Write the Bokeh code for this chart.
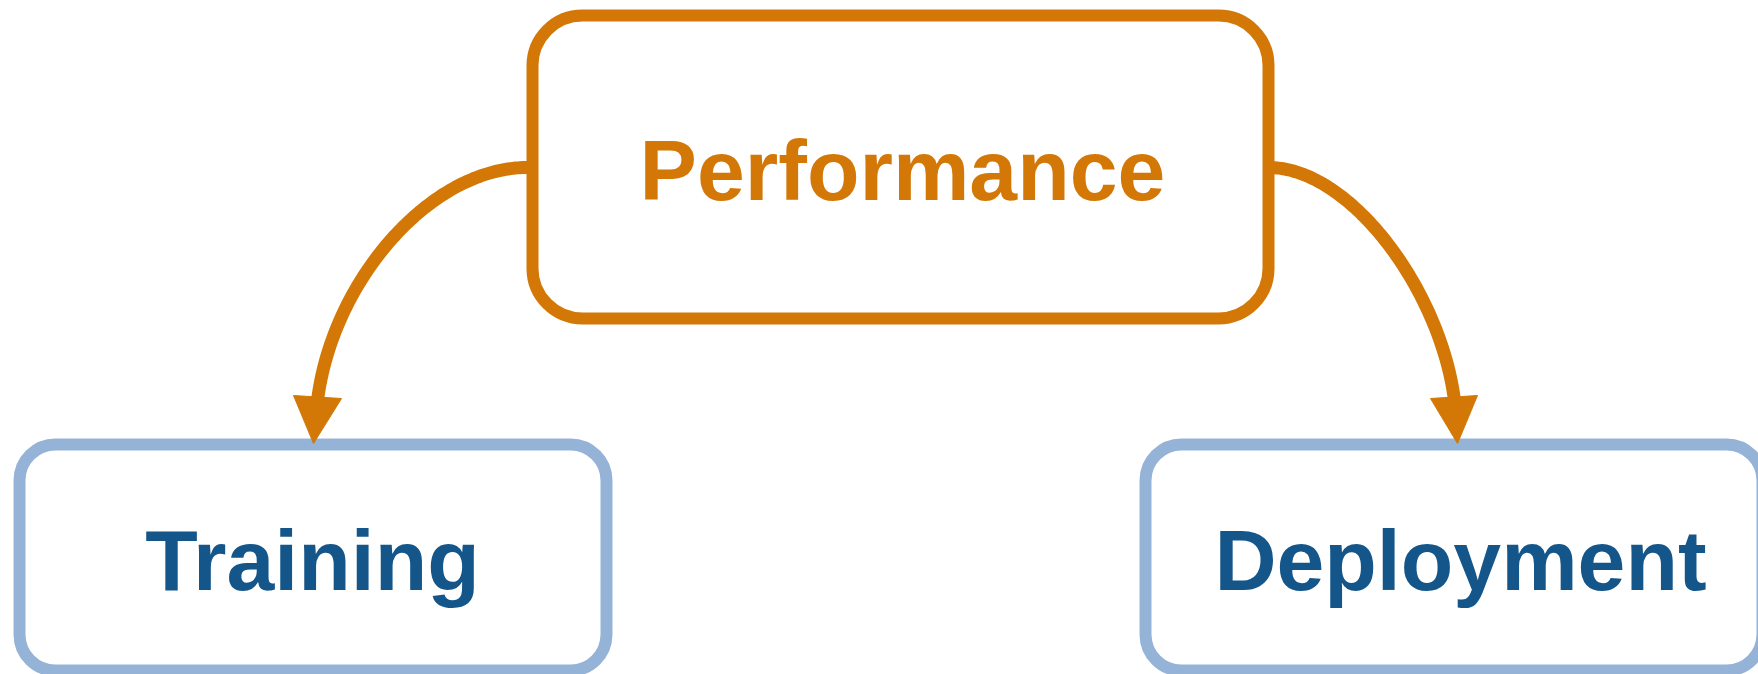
import numpy as np
from bokeh.plotting import figure
from bokeh.models import Range1d, ColumnDataSource
from bokeh.core.properties import value
from bokeh.embed import file_html
from bokeh.resources import INLINE

# ---- content ----
box_labels = ["Performance", "Training", "Deployment"]
box_line_colors = ["#D37807", "#95B3D7", "#95B3D7"]
text_colors = ["#D37807", "#15568A", "#15568A"]

# ---- layout (page pixel coordinates) ----
box_left = [532, 19, 1145]
box_right = [1268, 606, 1762]
box_top = [15, 444, 444]
box_bottom = [318, 670, 670]
box_radius = [50, 36, 36]
label_x = [902, 312, 1460]
label_y = [169, 559, 559]

arrow_x0 = [527, 1268]
arrow_y0 = [167, 167]
arrow_cx0 = [430, 1350]
arrow_cy0 = [167, 167]
arrow_cx1 = [332, 1440]
arrow_cy1 = [280, 290]
arrow_x1 = [317, 1454]
arrow_y1 = [400, 400]

head_xs = [[293, 341, 313], [1430, 1477, 1457]]
head_ys = [[395, 398, 443], [398, 395, 443]]

W, H = 1758, 674
p = figure(width=W, height=H, output_backend="svg", toolbar_location=None,
           x_range=Range1d(0, W), y_range=Range1d(H, 0),
           min_border=0, outline_line_color=None)
p.axis.visible = False
p.grid.visible = False
p.background_fill_color = "white"
p.border_fill_color = "white"

orange = box_line_colors[0]

for i in range(len(box_labels)):
    p.quad(left=[box_left[i]], right=[box_right[i]], top=[box_top[i]],
           bottom=[box_bottom[i]], fill_color="white",
           line_color=box_line_colors[i], line_width=12,
           border_radius=box_radius[i])

t = np.linspace(0, 1, 120)
for i in range(len(arrow_x0)):
    bx = ((1 - t) ** 3 * arrow_x0[i] + 3 * (1 - t) ** 2 * t * arrow_cx0[i]
          + 3 * (1 - t) * t ** 2 * arrow_cx1[i] + t ** 3 * arrow_x1[i])
    by = ((1 - t) ** 3 * arrow_y0[i] + 3 * (1 - t) ** 2 * t * arrow_cy0[i]
          + 3 * (1 - t) * t ** 2 * arrow_cy1[i] + t ** 3 * arrow_y1[i])
    p.line(bx, by, line_color=orange, line_width=13, line_join="round")
p.patches(xs=head_xs, ys=head_ys, fill_color=orange, line_color=orange, line_width=1)

labels = ColumnDataSource(dict(x=label_x, y=label_y, t=box_labels, c=text_colors))
p.text(x="x", y="y", text="t", source=labels, text_color="c",
       text_font=value("Liberation Sans"), text_font_style="bold",
       text_font_size="86px", text_align="center", text_baseline="alphabetic")

open("out.html", "w").write(file_html(p, INLINE))
